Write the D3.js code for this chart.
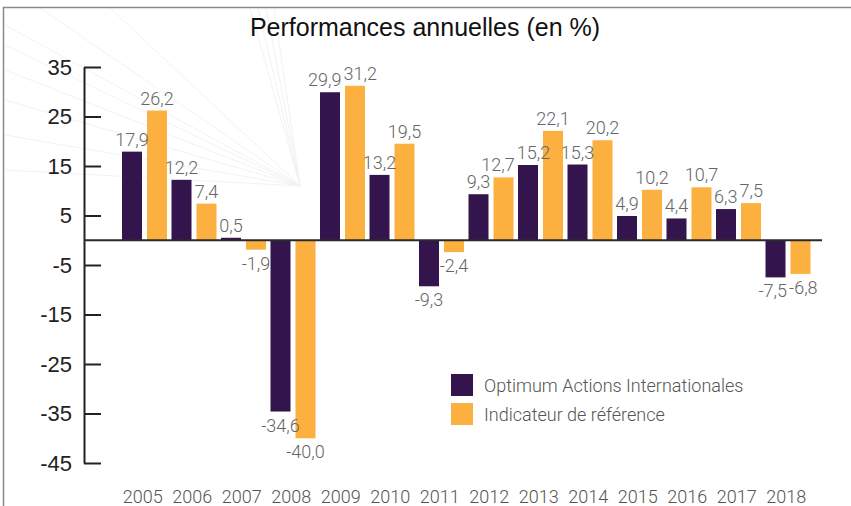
<!DOCTYPE html>
<html>
<head>
<meta charset="utf-8">
<script src="https://cdn.jsdelivr.net/npm/d3@7"></script>
<style>
  body { margin: 0; background: #fff; }
  svg { display: block; }
  .value-label { font-family: Roboto, "Liberation Sans", sans-serif; font-weight: 300; font-size: 18px; fill: #666; }
  .year-label { font-family: Roboto, "Liberation Sans", sans-serif; font-weight: 300; font-size: 18px; fill: #555; }
  .legend-label { font-family: Roboto, "Liberation Sans", sans-serif; font-weight: 300; font-size: 18px; fill: #555; }
  .y-axis text { font-family: "Liberation Sans", sans-serif; font-size: 22px; fill: #222; }
  .title { font-family: "Liberation Sans", sans-serif; font-size: 25px; fill: #111; }
</style>
</head>
<body>
<div id="chart"></div>
<script>
// chart values
var years = ["2005", "2006", "2007", "2008", "2009", "2010", "2011", "2012", "2013", "2014", "2015", "2016", "2017", "2018"];
var fundValues = [17.9, 12.2, 0.5, -34.6, 29.9, 13.2, -9.3, 9.3, 15.2, 15.3, 4.9, 4.4, 6.3, -7.5];
var refValues = [26.2, 7.4, -1.9, -40.0, 31.2, 19.5, -2.4, 12.7, 22.1, 20.2, 10.2, 10.7, 7.5, -6.8];
var seriesNames = ["Optimum Actions Internationales", "Indicateur de référence"];
var yTicks = [35, 25, 15, 5, -5, -15, -25, -35, -45];

var colors = ["#33144d", "#fbb040"];
var width = 851, height = 506;

var svg = d3.select("#chart").append("svg")
    .attr("width", width)
    .attr("height", height);

// faint palm-leaf lines in the background (decoration only)
var deco = svg.append("g").attr("stroke", "#f2f2f2").attr("stroke-width", 1);
[[5, 25], [5, 45], [5, 70], [5, 100], [5, 135], [5, 170], [40, 8], [110, 8], [250, 8], [258, 8], [266, 8], [274, 8]].forEach(function(p) {
    deco.append("line")
        .attr("x1", p[0]).attr("y1", p[1])
        .attr("x2", 300).attr("y2", 186);
});

// frame
svg.append("path")
    .attr("d", "M3.5," + height + "V7.5H" + width)
    .attr("fill", "none")
    .attr("stroke", "#8a8a8a")
    .attr("stroke-width", 1.5);

// title
svg.append("text")
    .attr("class", "title")
    .attr("x", 425)
    .attr("y", 36)
    .attr("text-anchor", "middle")
    .text("Performances annuelles (en %)");

// scales
var y = d3.scaleLinear().domain([-45, 35]).range([463, 67]);
var x0 = d3.scaleBand().domain(years).range([120, 120 + years.length * 49.5]);
var x1 = d3.scaleBand().domain([0, 1]).range([2, 47]).paddingInner(0.2);

var locale = d3.formatLocale({ decimal: ",", thousands: " ", grouping: [3], currency: ["", "€"] });
var fmt = locale.format(".1f");

// flat list of bars
var bars = [];
years.forEach(function(yr, i) {
    [fundValues[i], refValues[i]].forEach(function(v, k) {
        bars.push({ year: yr, k: k, v: v });
    });
});

// y axis
var yAxis = d3.axisLeft(y)
    .tickValues(yTicks)
    .tickSizeInner(-17)
    .tickSizeOuter(0)
    .tickPadding(12)
    .tickFormat(d3.format("d"));

var gy = svg.append("g")
    .attr("class", "y-axis")
    .attr("transform", "translate(84,0)")
    .call(yAxis);
gy.select(".domain").attr("stroke", "#222").attr("stroke-width", 2);
gy.selectAll(".tick line").attr("stroke", "#222").attr("stroke-width", 2);
gy.selectAll(".tick text").text(function(d) { return d < 0 ? "-" + Math.abs(d) : d; });

// bars
svg.append("g").selectAll("rect")
    .data(bars)
    .enter().append("rect")
    .attr("x", function(d) { return x0(d.year) + x1(d.k); })
    .attr("width", x1.bandwidth())
    .attr("y", function(d) { return y(Math.max(0, d.v)); })
    .attr("height", function(d) { return Math.abs(y(d.v) - y(0)); })
    .attr("fill", function(d) { return colors[d.k]; });

// value labels: centered, then pushed apart where neighbours collide
var labels = svg.append("g").selectAll(".value-label")
    .data(bars)
    .enter().append("text")
    .attr("class", "value-label")
    .attr("text-anchor", "middle")
    .attr("y", function(d) { return d.v >= 0 ? y(d.v) - 6 : y(d.v) + 20; })
    .text(function(d) { return (d.v < 0 ? "-" : "") + fmt(Math.abs(d.v)); });

labels.each(function(d) {
    d.w = this.getComputedTextLength();
    d.cx = x0(d.year) + x1(d.k) + x1.bandwidth() / 2;
    d.ly = d.v >= 0 ? y(d.v) - 6 : y(d.v) + 20;
});
for (var iter = 0; iter < 20; iter++) {
    for (var i = 0; i < bars.length - 1; i++) {
        var a = bars[i], b = bars[i + 1];
        if (Math.abs(a.ly - b.ly) > 14) continue;
        var overlap = (a.cx + a.w / 2 + 2) - (b.cx - b.w / 2);
        if (overlap > 0) { a.cx -= overlap / 2; b.cx += overlap / 2; }
    }
}
labels.attr("x", function(d) { return d.cx; });

// zero line
svg.append("line")
    .attr("x1", 84)
    .attr("x2", 822)
    .attr("y1", y(0))
    .attr("y2", y(0))
    .attr("stroke", "#2a2a2a")
    .attr("stroke-width", 2);

// year labels
svg.selectAll(".year-label")
    .data(years)
    .enter().append("text")
    .attr("class", "year-label")
    .attr("x", function(d) { return x0(d) + x0.bandwidth() / 2 - 2; })
    .attr("y", 503)
    .attr("text-anchor", "middle")
    .text(function(d) { return d; });

// legend
var legend = svg.selectAll(".legend")
    .data(seriesNames)
    .enter().append("g")
    .attr("class", "legend")
    .attr("transform", function(d, i) { return "translate(451," + (374 + i * 29) + ")"; });

legend.append("rect")
    .attr("width", 22)
    .attr("height", 22)
    .attr("fill", function(d, i) { return colors[i]; });

legend.append("text")
    .attr("class", "legend-label")
    .attr("x", 33)
    .attr("y", 18)
    .text(function(d) { return d; });
</script>
</body>
</html>
